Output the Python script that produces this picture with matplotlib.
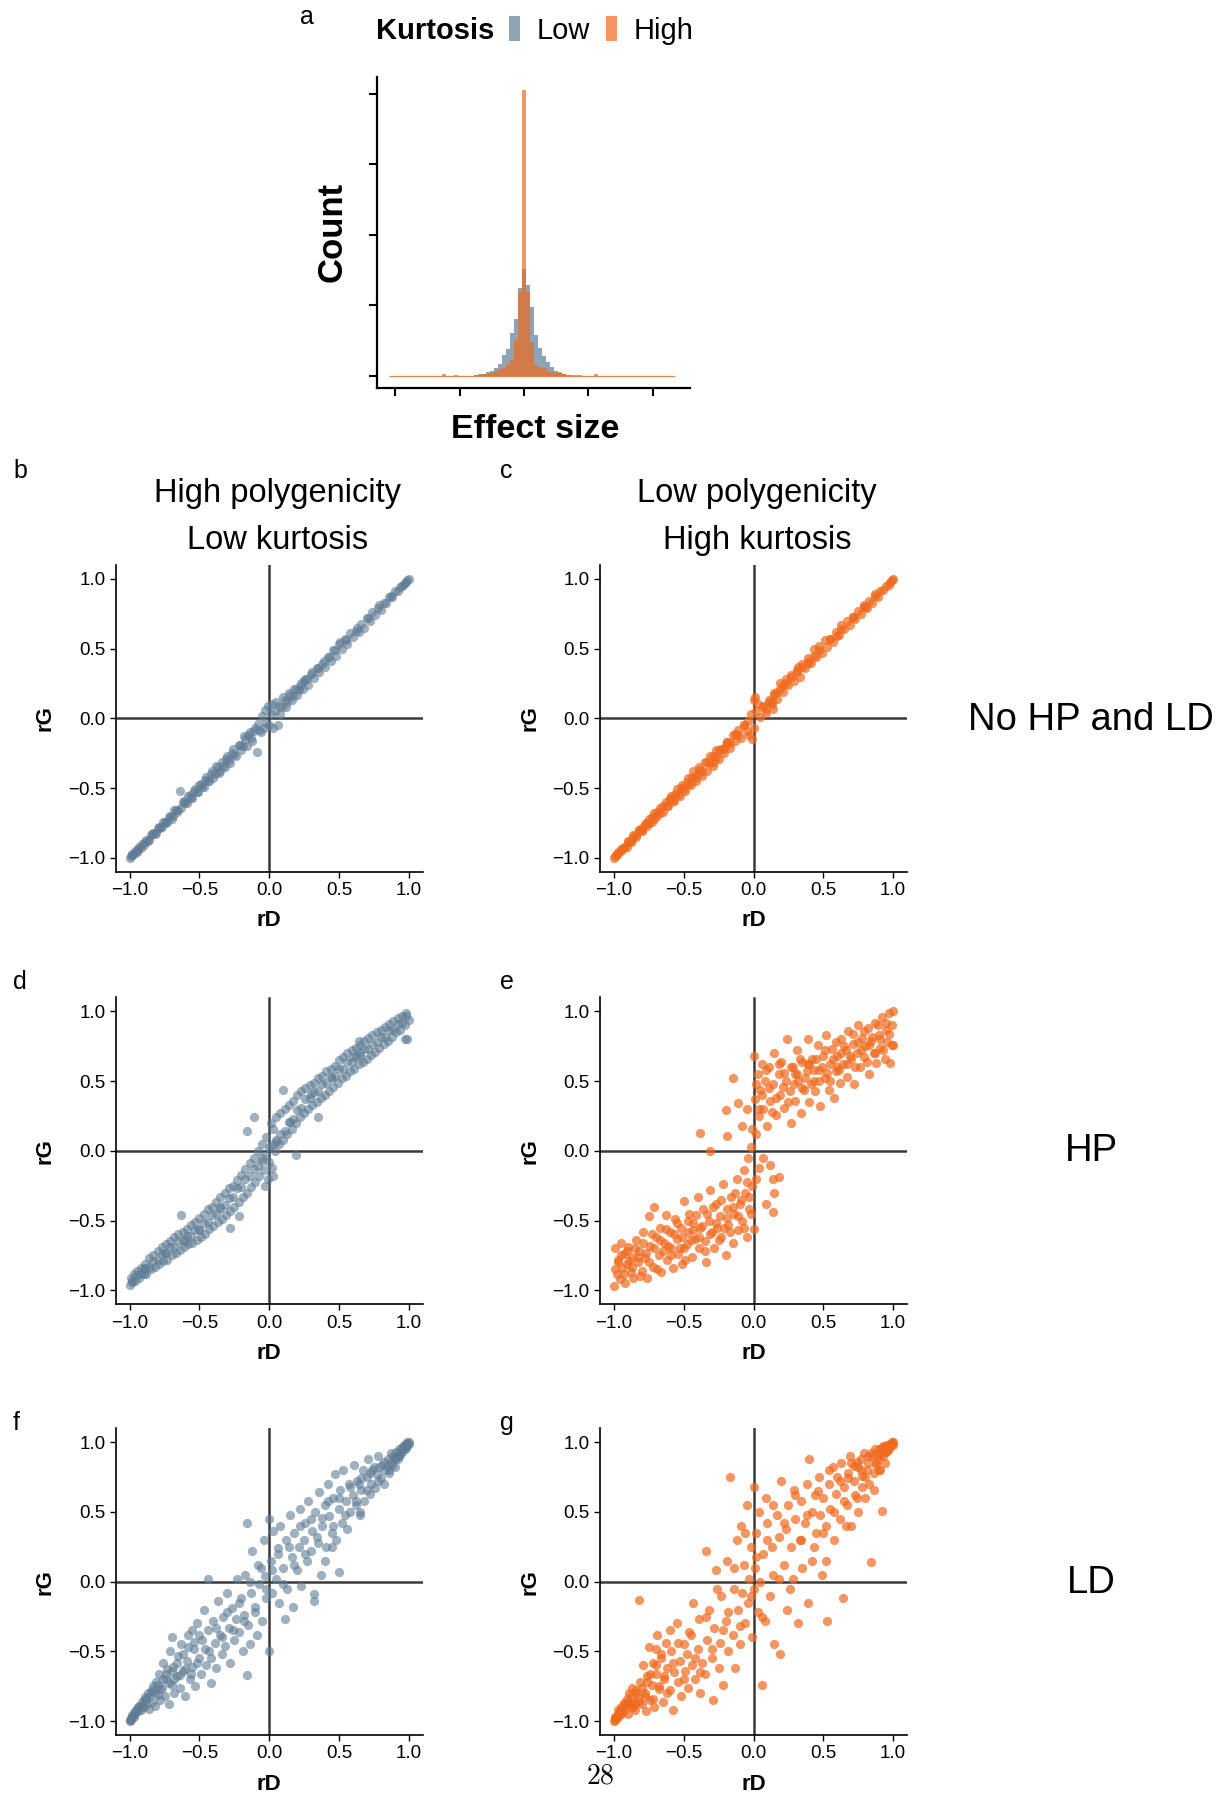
import matplotlib
matplotlib.use("Agg")
import matplotlib.pyplot as plt
from matplotlib.patches import Rectangle
import numpy as np

plt.rcParams["font.family"] = ["Liberation Sans", "DejaVu Sans"]
plt.rcParams["mathtext.fontset"] = "cm"

W, H = 1222, 1794
BLUE = "#5f7c94"
ORANGE = "#ef6a1e"
ZERO_LINE = "#3a3a3a"

# ---- panel a: effect size histograms (bins of width 0.0625, k = -33..37) ----
bin_width = 0.0625
bin_k = list(range(-33, 38))
low_counts = [0, 0, 0, 0, 0, 0, 0, 0, 0, 0,
              0, 0, 0, 0, 0, 0, 0, 0, 0, 0,
              0, 14, 21, 28, 50, 71, 113, 166, 294, 379,
              610, 804, 1238, 1507, 1286, 968, 577, 387, 279, 189,
              128, 71, 43, 28, 14, 0, 0, 0, 0, 0,
              0, 0, 0, 0, 0, 0, 0, 0, 0, 0,
              0, 0, 0, 0, 0, 0, 0, 0, 0, 0,
              0]
high_counts = [0, 0, 0, 0, 0, 0, 0, 0, 0, 0,
               0, 0, 0, 20, 0, 0, 14, 0, 0, 0,
               0, 14, 14, 21, 28, 43, 64, 89, 104, 152,
               223, 506, 1181, 4056, 1181, 482, 152, 128, 104, 71,
               57, 43, 57, 28, 14, 14, 14, 14, 0, 0,
               0, 18, 0, 0, 0, 0, 0, 0, 0, 0,
               0, 0, 0, 0, 0, 0, 0, 0, 0, 0,
               0]

# ---- panel b: high polygenicity / low kurtosis, no HP and LD ----
b_rd = [-1.00, -0.99, -0.97, -0.96, -0.94, -0.92, -0.91, -0.89, -0.87, -0.85,
        -0.83, -0.81, -0.79, -0.78, -0.76, -0.74, -0.72, -0.70, -0.68, -0.66,
        -0.64, -0.63, -0.61, -0.59, -0.57, -0.55, -0.53, -0.51, -0.49, -0.47,
        -0.45, -0.43, -0.41, -0.40, -0.38, -0.36, -0.34, -0.32, -0.30, -0.28,
        -0.26, -0.24, -0.22, -0.20, -0.18, -0.16, -0.14, -0.12, -0.10, -0.09,
        -0.08, -0.06, -0.05, -0.04, -0.03, -0.02, -0.01, 0.00, 0.01, 0.02,
        0.03, 0.04, 0.05, 0.06, 0.08, 0.10, 0.12, 0.14, 0.16, 0.18,
        0.20, 0.22, 0.24, 0.26, 0.28, 0.30, 0.32, 0.34, 0.36, 0.38,
        0.40, 0.42, 0.44, 0.46, 0.48, 0.50, 0.52, 0.54, 0.56, 0.58,
        0.60, 0.62, 0.64, 0.66, 0.68, 0.70, 0.72, 0.74, 0.76, 0.78,
        0.80, 0.82, 0.84, 0.86, 0.88, 0.90, 0.92, 0.94, 0.96, 0.98,
        1.00, 0.99, 0.97, 0.95, -0.98, -0.95, 0.51, -0.35, 0.25, -0.15,
        -0.98, -0.95, -0.93, -0.90, -0.88, -0.86, -0.84, -0.82, -0.80, -0.77,
        -0.75, -0.73, -0.71, -0.69, -0.67, -0.65, -0.62, -0.60, -0.58, -0.56,
        -0.54, -0.52, -0.50, -0.48, -0.46, -0.44, -0.42, -0.39, -0.37, -0.33,
        -0.31, -0.29, -0.27, -0.25, -0.21, -0.19, -0.17, -0.13, -0.11, -0.07,
        0.07, 0.09, 0.11, 0.13, 0.15, 0.17, 0.19, 0.21, 0.23, 0.27,
        0.31, 0.35, 0.39, 0.43, 0.47, 0.55, 0.63, 0.71, 0.79, 0.87]
b_rg = [-1.00, -0.99, -0.97, -0.95, -0.94, -0.93, -0.90, -0.89, -0.88, -0.84,
        -0.82, -0.82, -0.78, -0.79, -0.74, -0.75, -0.71, -0.72, -0.66, -0.67,
        -0.52, -0.64, -0.59, -0.61, -0.55, -0.57, -0.51, -0.53, -0.47, -0.49,
        -0.42, -0.45, -0.38, -0.43, -0.34, -0.39, -0.31, -0.35, -0.27, -0.32,
        -0.22, -0.27, -0.19, -0.23, -0.13, -0.20, -0.10, -0.16, -0.07, -0.24,
        -0.04, -0.10, 0.02, -0.07, 0.06, -0.03, 0.09, -0.05, 0.03, 0.10,
        -0.07, 0.05, 0.12, -0.05, 0.03, 0.15, 0.08, 0.18, 0.13, 0.21,
        0.17, 0.23, 0.21, 0.28, 0.24, 0.32, 0.29, 0.36, 0.33, 0.39,
        0.37, 0.44, 0.41, 0.49, 0.45, 0.53, 0.50, 0.57, 0.53, 0.61,
        0.58, 0.63, 0.62, 0.68, 0.65, 0.72, 0.70, 0.76, 0.74, 0.79,
        0.78, 0.83, 0.83, 0.87, 0.87, 0.91, 0.91, 0.94, 0.96, 0.98,
        1.00, 0.99, 0.97, 0.95, -0.98, -0.95, 0.55, -0.38, 0.27, -0.12,
        -0.97, -0.96, -0.92, -0.91, -0.87, -0.87, -0.83, -0.83, -0.79, -0.78,
        -0.74, -0.74, -0.70, -0.70, -0.66, -0.66, -0.60, -0.61, -0.56, -0.57,
        -0.52, -0.53, -0.48, -0.49, -0.44, -0.45, -0.40, -0.40, -0.35, -0.34,
        -0.29, -0.30, -0.25, -0.26, -0.19, -0.20, -0.15, -0.14, -0.09, -0.08,
        0.09, 0.08, 0.13, 0.12, 0.17, 0.16, 0.21, 0.20, 0.25, 0.28,
        0.33, 0.36, 0.41, 0.44, 0.49, 0.56, 0.65, 0.72, 0.81, 0.88]

# ---- panel c: low polygenicity / high kurtosis, no HP and LD ----
c_rd = [-1.00, -0.98, -0.97, -0.95, -0.93, -0.91, -0.90, -0.88, -0.86, -0.84,
        -0.82, -0.80, -0.78, -0.76, -0.75, -0.73, -0.71, -0.69, -0.67, -0.65,
        -0.63, -0.61, -0.59, -0.57, -0.55, -0.53, -0.51, -0.49, -0.47, -0.45,
        -0.43, -0.41, -0.39, -0.37, -0.35, -0.33, -0.31, -0.29, -0.27, -0.25,
        -0.23, -0.21, -0.19, -0.17, -0.15, -0.13, -0.11, -0.09, -0.07, -0.05,
        -0.04, -0.03, -0.02, -0.01, 0.00, 0.00, 0.01, 0.02, 0.03, 0.05,
        0.07, 0.09, 0.11, 0.13, 0.15, 0.17, 0.19, 0.21, 0.23, 0.25,
        0.27, 0.29, 0.31, 0.33, 0.35, 0.37, 0.39, 0.41, 0.43, 0.45,
        0.47, 0.49, 0.51, 0.53, 0.55, 0.57, 0.59, 0.61, 0.63, 0.65,
        0.67, 0.69, 0.71, 0.73, 0.75, 0.77, 0.79, 0.81, 0.83, 0.85,
        0.87, 0.89, 0.91, 0.93, 0.95, 0.97, 0.99, 1.00, -0.99, 0.98,
        -0.80, -0.60, -0.40, -0.20, 0.40, 0.60, 0.80, 0.32, -0.28, 0.14,
        -0.98, -0.95, -0.93, -0.90, -0.88, -0.86, -0.84, -0.82, -0.80, -0.77,
        -0.75, -0.73, -0.71, -0.69, -0.67, -0.65, -0.62, -0.60, -0.58, -0.56,
        -0.54, -0.52, -0.50, -0.48, -0.46, -0.44, -0.42, -0.39, -0.37, -0.33,
        -0.31, -0.29, -0.27, -0.25, -0.21, -0.19, -0.17, -0.13, -0.11, -0.07,
        0.07, 0.09, 0.11, 0.13, 0.15, 0.17, 0.19, 0.21, 0.23, 0.27,
        0.31, 0.35, 0.39, 0.43, 0.47, 0.55, 0.63, 0.71, 0.79, 0.87]
c_rg = [-1.00, -0.98, -0.96, -0.95, -0.92, -0.92, -0.88, -0.89, -0.85, -0.85,
        -0.80, -0.81, -0.76, -0.77, -0.72, -0.74, -0.68, -0.70, -0.64, -0.67,
        -0.60, -0.63, -0.56, -0.59, -0.51, -0.56, -0.48, -0.52, -0.43, -0.48,
        -0.38, -0.45, -0.35, -0.41, -0.31, -0.38, -0.27, -0.34, -0.23, -0.29,
        -0.22, -0.25, -0.17, -0.21, -0.12, -0.16, -0.08, -0.14, -0.05, -0.09,
        -0.02, -0.12, 0.03, -0.15, 0.13, -0.07, 0.15, 0.05, 0.10, 0.01,
        0.09, 0.04, 0.12, 0.10, 0.18, 0.14, 0.25, 0.19, 0.28, 0.24,
        0.31, 0.27, 0.35, 0.30, 0.39, 0.36, 0.43, 0.40, 0.50, 0.44,
        0.52, 0.47, 0.56, 0.51, 0.57, 0.55, 0.62, 0.60, 0.67, 0.64,
        0.70, 0.67, 0.73, 0.71, 0.77, 0.75, 0.81, 0.79, 0.84, 0.83,
        0.88, 0.87, 0.91, 0.92, 0.95, 0.96, 0.99, 1.00, -0.99, 0.98,
        -0.79, -0.58, -0.40, -0.19, 0.41, 0.59, 0.80, 0.37, -0.31, 0.07,
        -0.97, -0.94, -0.93, -0.89, -0.88, -0.84, -0.84, -0.80, -0.80, -0.75,
        -0.75, -0.71, -0.72, -0.67, -0.68, -0.63, -0.63, -0.58, -0.59, -0.54,
        -0.55, -0.50, -0.51, -0.46, -0.47, -0.42, -0.43, -0.37, -0.38, -0.31,
        -0.32, -0.27, -0.28, -0.23, -0.22, -0.17, -0.18, -0.11, -0.12, -0.05,
        0.08, 0.07, 0.13, 0.12, 0.17, 0.19, 0.21, 0.24, 0.25, 0.30,
        0.33, 0.37, 0.40, 0.45, 0.49, 0.57, 0.64, 0.73, 0.80, 0.89]

# ---- panel d: high polygenicity / low kurtosis, HP ----
d_rd = [-1.00, -0.99, -0.98, -0.97, -0.96, -0.95, -0.93, -0.92, -0.90, -0.89,
        -0.88, -0.86, -0.85, -0.83, -0.82, -0.80, -0.79, -0.77, -0.76, -0.74,
        -0.73, -0.71, -0.70, -0.68, -0.67, -0.65, -0.64, -0.62, -0.61, -0.59,
        -0.58, -0.56, -0.55, -0.53, -0.52, -0.50, -0.49, -0.47, -0.46, -0.44,
        -0.43, -0.41, -0.40, -0.38, -0.37, -0.35, -0.34, -0.32, -0.31, -0.29,
        -0.28, -0.26, -0.25, -0.23, -0.22, -0.20, -0.19, -0.17, -0.16, -0.14,
        -0.13, -0.11, -0.10, -0.08, -0.07, -0.05, -0.04, -0.03, -0.02, -0.01,
        0.00, 0.00, 0.01, 0.02, 0.03, 0.04, 0.05, 0.07, 0.08, 0.10,
        0.11, 0.13, 0.14, 0.16, 0.17, 0.19, 0.20, 0.22, 0.23, 0.25,
        0.26, 0.28, 0.29, 0.31, 0.32, 0.34, 0.35, 0.37, 0.38, 0.40,
        0.41, 0.43, 0.44, 0.46, 0.47, 0.49, 0.50, 0.52, 0.53, 0.55,
        0.56, 0.58, 0.59, 0.61, 0.62, 0.64, 0.65, 0.67, 0.68, 0.70,
        0.71, 0.73, 0.74, 0.76, 0.77, 0.79, 0.80, 0.82, 0.83, 0.85,
        0.86, 0.88, 0.89, 0.91, 0.92, 0.94, 0.95, 0.97, 0.98, 1.00,
        -0.63, -0.28, -0.22, -0.16, -0.11, 0.19, 0.03, 0.10, 0.35, 0.64,
        0.97, 0.99, 0.65, 0.45, -0.50, -0.75, -0.90, 0.15, 0.05, -0.05,
        -0.98, -0.95, -0.92, -0.89, -0.86, -0.83, -0.80, -0.77, -0.74, -0.71,
        -0.68, -0.65, -0.62, -0.59, -0.56, -0.53, -0.50, -0.47, -0.44, -0.41,
        -0.38, -0.35, -0.32, -0.29, -0.26, -0.23, -0.20, -0.17, -0.14, -0.11,
        -0.08, -0.05, -0.02, 0.02, 0.05, 0.08, 0.11, 0.14, 0.17, 0.20,
        0.23, 0.26, 0.29, 0.32, 0.35, 0.38, 0.41, 0.44, 0.47, 0.50,
        0.53, 0.56, 0.59, 0.62, 0.65, 0.68, 0.71, 0.74, 0.77, 0.80,
        0.83, 0.86, 0.89, 0.92, 0.95, 0.98, -0.60, 0.60, -0.35, 0.30]
d_rg = [-0.96, -0.91, -0.94, -0.88, -0.93, -0.86, -0.91, -0.84, -0.88, -0.81,
        -0.88, -0.77, -0.85, -0.75, -0.83, -0.72, -0.81, -0.69, -0.79, -0.67,
        -0.78, -0.65, -0.75, -0.62, -0.73, -0.60, -0.71, -0.58, -0.69, -0.56,
        -0.67, -0.53, -0.66, -0.51, -0.64, -0.48, -0.62, -0.45, -0.60, -0.42,
        -0.56, -0.40, -0.54, -0.37, -0.51, -0.33, -0.49, -0.30, -0.46, -0.27,
        -0.43, -0.25, -0.40, -0.21, -0.37, -0.17, -0.33, -0.13, -0.30, -0.09,
        -0.26, -0.05, -0.22, 0.00, -0.18, 0.05, -0.14, -0.25, 0.10, -0.20,
        0.03, -0.08, 0.20, -0.12, 0.16, 0.00, 0.24, 0.05, 0.27, 0.08,
        0.30, 0.12, 0.33, 0.16, 0.36, 0.20, 0.40, 0.24, 0.43, 0.27,
        0.45, 0.30, 0.47, 0.33, 0.49, 0.35, 0.52, 0.38, 0.54, 0.40,
        0.57, 0.43, 0.59, 0.46, 0.61, 0.49, 0.65, 0.52, 0.67, 0.54,
        0.70, 0.57, 0.72, 0.59, 0.74, 0.62, 0.76, 0.64, 0.79, 0.66,
        0.81, 0.69, 0.83, 0.71, 0.85, 0.74, 0.87, 0.77, 0.89, 0.79,
        0.91, 0.82, 0.93, 0.85, 0.95, 0.87, 0.97, 0.90, 0.99, 0.94,
        -0.46, -0.55, -0.47, 0.14, 0.24, -0.03, -0.18, 0.44, 0.24, 0.79,
        0.80, 0.80, 0.70, 0.52, -0.56, -0.73, -0.85, 0.21, 0.08, -0.07,
        -0.93, -0.89, -0.88, -0.84, -0.83, -0.79, -0.78, -0.74, -0.73, -0.69,
        -0.69, -0.65, -0.65, -0.61, -0.61, -0.57, -0.57, -0.52, -0.51, -0.46,
        -0.45, -0.40, -0.39, -0.34, -0.33, -0.27, -0.26, -0.20, -0.18, -0.13,
        -0.11, -0.05, -0.03, 0.04, 0.06, 0.12, 0.14, 0.21, 0.23, 0.29,
        0.31, 0.37, 0.38, 0.42, 0.43, 0.48, 0.49, 0.53, 0.54, 0.59,
        0.59, 0.64, 0.64, 0.68, 0.68, 0.73, 0.73, 0.77, 0.78, 0.82,
        0.82, 0.87, 0.87, 0.91, 0.92, 0.97, -0.64, 0.67, -0.42, 0.41]

# ---- panel e: low polygenicity / high kurtosis, HP ----
e_rd = [-1.00, -0.99, -0.98, -0.97, -0.96, -0.95, -0.94, -0.93, -0.92, -0.91,
        -0.90, -0.88, -0.87, -0.86, -0.84, -0.83, -0.82, -0.80, -0.79, -0.78,
        -0.76, -0.75, -0.74, -0.72, -0.71, -0.70, -0.68, -0.67, -0.66, -0.64,
        -0.63, -0.62, -0.60, -0.59, -0.58, -0.56, -0.55, -0.54, -0.52, -0.51,
        -0.50, -0.48, -0.47, -0.46, -0.44, -0.43, -0.42, -0.40, -0.39, -0.38,
        -0.36, -0.35, -0.34, -0.32, -0.31, -0.30, -0.28, -0.27, -0.26, -0.24,
        -0.23, -0.22, -0.20, -0.19, -0.18, -0.16, -0.15, -0.14, -0.12, -0.11,
        -0.10, -0.08, -0.07, -0.06, -0.05, -0.04, -0.03, -0.02, -0.01, 0.00,
        0.00, 0.01, 0.02, 0.03, 0.04, 0.05, 0.06, 0.07, 0.08, 0.10,
        0.11, 0.12, 0.14, 0.15, 0.16, 0.18, 0.19, 0.20, 0.22, 0.23,
        0.24, 0.26, 0.27, 0.28, 0.30, 0.31, 0.32, 0.34, 0.35, 0.36,
        0.38, 0.39, 0.40, 0.42, 0.43, 0.44, 0.46, 0.47, 0.48, 0.50,
        0.51, 0.52, 0.54, 0.55, 0.56, 0.58, 0.59, 0.60, 0.62, 0.63,
        0.64, 0.66, 0.67, 0.68, 0.70, 0.71, 0.72, 0.74, 0.75, 0.76,
        0.78, 0.79, 0.80, 0.82, 0.83, 0.84, 0.86, 0.87, 0.88, 0.90,
        0.91, 0.92, 0.94, 0.95, 0.96, 0.97, 0.98, 0.99, 1.00, 1.00,
        -0.15, -0.20, -0.11, -0.38, -0.31, -0.19, -0.05, -0.08, 0.14, 0.18,
        0.14, 0.09, 0.07, 0.12, 0.02, -0.01, 0.04, 0.15, -0.50, 0.30,
        -0.99, -0.97, -0.95, -0.93, -0.91, -0.89, -0.87, -0.85, -0.83, -0.81,
        -0.79, -0.77, -0.75, -0.73, -0.71, -0.69, -0.67, -0.65, -0.63, -0.61,
        -0.59, -0.57, -0.55, -0.53, -0.51, -0.49, -0.47, -0.45, -0.43, -0.41,
        -0.39, -0.37, -0.35, -0.33, -0.31, -0.29, -0.27, -0.25, -0.23, -0.21,
        -0.19, -0.17, -0.15, -0.13, -0.11, -0.09, -0.07, -0.05, -0.03, -0.02,
        0.02, 0.04, 0.06, 0.09, 0.11, 0.13, 0.16, 0.18, 0.21, 0.22,
        0.25, 0.27, 0.29, 0.31, 0.33, 0.35, 0.37, 0.39, 0.41, 0.43,
        0.45, 0.47, 0.49, 0.51, 0.53, 0.55, 0.57, 0.59, 0.61, 0.63,
        0.65, 0.67, 0.69, 0.71, 0.73, 0.75, 0.77, 0.79, 0.81, 0.83,
        0.85, 0.87, 0.89, 0.91, 0.93, 0.95, 0.97, 0.99, 0.60, 0.40]
e_rg = [-0.97, -0.70, -0.88, -0.78, -0.92, -0.66, -0.84, -0.74, -0.95, -0.81,
        -0.69, -0.87, -0.76, -0.91, -0.64, -0.80, -0.72, -0.86, -0.58, -0.77,
        -0.91, -0.47, -0.68, -0.83, -0.40, -0.62, -0.75, -0.55, -0.87, -0.66,
        -0.46, -0.78, -0.58, -0.70, -0.84, -0.49, -0.63, -0.74, -0.55, -0.81,
        -0.36, -0.67, -0.58, -0.45, -0.76, -0.52, -0.63, -0.33, -0.70, -0.55,
        -0.42, -0.65, -0.80, -0.50, -0.28, -0.58, -0.70, -0.38, -0.55, -0.47,
        -0.62, -0.24, -0.75, -0.42, -0.53, -0.33, -0.66, -0.45, -0.20, -0.57,
        -0.38, -0.50, -0.14, -0.30, -0.62, -0.05, -0.42, 0.03, -0.25, -0.56,
        0.68, 0.37, 0.12, 0.55, 0.25, 0.44, 0.62, 0.30, 0.50, 0.18,
        0.60, 0.36, 0.48, 0.70, 0.26, 0.55, 0.40, 0.64, 0.31, 0.50,
        0.80, 0.43, 0.20, 0.60, 0.36, 0.72, 0.50, 0.27, 0.64, 0.44,
        0.57, 0.80, 0.35, 0.66, 0.50, 0.43, 0.76, 0.58, 0.32, 0.68,
        0.52, 0.83, 0.44, 0.62, 0.73, 0.38, 0.57, 0.68, 0.49, 0.80,
        0.62, 0.72, 0.53, 0.86, 0.66, 0.77, 0.48, 0.70, 0.90, 0.60,
        0.81, 0.67, 0.75, 0.88, 0.55, 0.79, 0.70, 0.92, 0.63, 0.83,
        0.74, 0.96, 0.66, 0.87, 0.78, 0.99, 0.63, 0.90, 0.76, 1.00,
        0.52, 0.29, 0.34, 0.13, 0.00, 0.11, 0.30, 0.18, -0.20, -0.19,
        -0.44, -0.38, -0.05, -0.10, -0.20, 0.16, -0.12, -0.30, -0.70, 0.55,
        -0.85, -0.80, -0.75, -0.88, -0.72, -0.79, -0.83, -0.70, -0.76, -0.90,
        -0.66, -0.73, -0.80, -0.60, -0.70, -0.85, -0.64, -0.72, -0.56, -0.68,
        -0.75, -0.60, -0.52, -0.70, -0.62, -0.78, -0.50, -0.64, -0.57, -0.46,
        -0.62, -0.54, -0.72, -0.45, -0.60, -0.40, -0.52, -0.64, -0.35, -0.55,
        -0.48, -0.58, -0.40, -0.30, -0.47, -0.35, -0.55, -0.22, -0.33, -0.45,
        0.48, 0.30, 0.40, 0.58, 0.45, 0.28, 0.38, 0.62, 0.46, 0.56,
        0.35, 0.60, 0.48, 0.55, 0.66, 0.45, 0.52, 0.62, 0.48, 0.58,
        0.66, 0.50, 0.60, 0.72, 0.56, 0.50, 0.66, 0.78, 0.58, 0.70,
        0.75, 0.62, 0.68, 0.84, 0.60, 0.78, 0.72, 0.86, 0.64, 0.76,
        0.82, 0.70, 0.90, 0.80, 0.72, 0.92, 0.84, 0.76, 0.60, 0.62]

# ---- panel f: high polygenicity / low kurtosis, LD ----
f_rd = [-1.00, -0.99, -0.99, -0.98, -0.97, -0.97, -0.96, -0.95, -0.94, -0.93,
        -0.92, -0.91, -0.90, -0.89, -0.88, -0.87, -0.86, -0.85, -0.84, -0.83,
        -0.82, -0.81, -0.80, -0.79, -0.78, -0.77, -0.76, -0.75, -0.74, -0.73,
        -0.72, -0.71, -0.70, -0.69, -0.68, -0.66, -0.65, -0.64, -0.63, -0.62,
        -0.60, -0.59, -0.58, -0.57, -0.55, -0.54, -0.53, -0.52, -0.50, -0.49,
        -0.48, -0.47, -0.45, -0.44, -0.43, -0.42, -0.40, -0.39, -0.38, -0.37,
        -0.35, -0.34, -0.33, -0.32, -0.30, -0.29, -0.28, -0.27, -0.25, -0.24,
        -0.23, -0.22, -0.20, -0.19, -0.18, -0.17, -0.15, -0.14, -0.13, -0.12,
        -0.10, -0.09, -0.08, -0.07, -0.05, -0.04, -0.03, -0.02, 0.00, 0.00,
        0.01, 0.02, 0.03, 0.05, 0.06, 0.07, 0.08, 0.10, 0.11, 0.12,
        0.13, 0.15, 0.16, 0.17, 0.18, 0.20, 0.21, 0.22, 0.23, 0.25,
        0.26, 0.27, 0.28, 0.30, 0.31, 0.32, 0.33, 0.35, 0.36, 0.37,
        0.38, 0.40, 0.41, 0.42, 0.43, 0.45, 0.46, 0.47, 0.48, 0.50,
        0.51, 0.52, 0.53, 0.55, 0.56, 0.57, 0.58, 0.60, 0.61, 0.62,
        0.63, 0.65, 0.66, 0.67, 0.68, 0.70, 0.71, 0.72, 0.73, 0.75,
        0.76, 0.77, 0.78, 0.80, 0.81, 0.82, 0.83, 0.85, 0.86, 0.87,
        0.88, 0.89, 0.90, 0.91, 0.92, 0.93, 0.94, 0.95, 0.96, 0.97,
        0.97, 0.98, 0.98, 0.99, 0.99, 1.00, 1.00, 0.95, 0.90, 0.85,
        -0.16, -0.44, 0.32, -0.16, 0.50, 0.40, -0.55, -0.70, 0.65, 0.45,
        -0.995, -0.98, -0.96, -0.94, -0.92, -0.90, -0.88, -0.86, -0.84, -0.82,
        -0.80, -0.78, -0.76, -0.74, -0.72, -0.70, -0.68, -0.66, -0.64, -0.62,
        -0.60, -0.58, -0.56, -0.54, -0.52, -0.50, -0.46, -0.42, -0.38, -0.34,
        -0.30, -0.26, -0.22, -0.18, -0.14, -0.10, -0.06, -0.02, 0.02, 0.06,
        0.10, 0.14, 0.18, 0.22, 0.26, 0.30, 0.34, 0.38, 0.42, 0.46,
        0.50, 0.54, 0.58, 0.62, 0.66, 0.70, 0.74, 0.78, 0.82, 0.86,
        0.90, 0.94, 0.96, 0.98, 0.99, 0.93, 0.87, 0.79, 0.72, 0.64]
f_rg = [-1.00, -0.98, -0.99, -0.96, -0.97, -0.94, -0.95, -0.91, -0.93, -0.89,
        -0.92, -0.86, -0.90, -0.83, -0.88, -0.80, -0.91, -0.79, -0.86, -0.75,
        -0.89, -0.72, -0.81, -0.66, -0.85, -0.76, -0.58, -0.82, -0.70, -0.63,
        -0.88, -0.50, -0.74, -0.61, -0.80, -0.68, -0.53, -0.76, -0.45, -0.64,
        -0.82, -0.57, -0.38, -0.70, -0.61, -0.48, -0.75, -0.30, -0.55, -0.66,
        -0.42, -0.20, -0.60, -0.35, -0.50, -0.73, -0.28, -0.44, -0.62, -0.14,
        -0.38, -0.52, -0.25, -0.46, -0.08, -0.33, -0.58, -0.19, -0.42, -0.27,
        0.02, -0.36, -0.12, -0.50, -0.24, 0.05, -0.31, -0.45, -0.08, 0.22,
        -0.18, -0.38, 0.12, -0.02, -0.28, 0.30, 0.04, -0.12, 0.45, -0.50,
        0.15, -0.08, 0.36, 0.02, 0.24, -0.15, 0.40, 0.10, -0.27, 0.30,
        -0.05, 0.48, 0.18, -0.18, 0.35, 0.08, 0.25, 0.52, -0.03, 0.30,
        0.42, 0.15, 0.58, 0.22, 0.36, -0.09, 0.50, 0.28, 0.64, 0.05,
        0.40, 0.55, 0.25, 0.70, 0.47, 0.35, 0.60, 0.77, 0.30, 0.52,
        0.66, 0.42, 0.80, 0.58, 0.38, 0.70, 0.50, 0.62, 0.84, 0.55,
        0.72, 0.48, 0.66, 0.80, 0.58, 0.75, 0.88, 0.63, 0.70, 0.82,
        0.67, 0.77, 0.90, 0.74, 0.84, 0.70, 0.80, 0.88, 0.78, 0.92,
        0.84, 0.90, 0.82, 0.93, 0.88, 0.95, 0.91, 0.93, 0.97, 0.95,
        0.98, 0.97, 0.99, 0.98, 1.00, 0.99, 1.00, 0.96, 0.88, 0.83,
        -0.67, 0.02, -0.14, 0.42, 0.07, 0.15, -0.35, -0.40, 0.50, 0.25,
        -0.99, -0.97, -0.93, -0.90, -0.89, -0.85, -0.84, -0.83, -0.78, -0.80,
        -0.74, -0.77, -0.70, -0.66, -0.73, -0.64, -0.70, -0.58, -0.67, -0.52,
        -0.63, -0.47, -0.66, -0.43, -0.58, -0.38, -0.48, -0.55, -0.33, -0.40,
        -0.22, -0.35, -0.15, -0.28, 0.00, -0.22, 0.10, -0.05, 0.08, 0.20,
        -0.02, 0.25, 0.12, 0.40, 0.20, 0.45, 0.32, 0.46, 0.58, 0.40,
        0.60, 0.48, 0.68, 0.58, 0.74, 0.66, 0.80, 0.72, 0.86, 0.80,
        0.89, 0.92, 0.95, 0.96, 0.99, 0.90, 0.86, 0.82, 0.78, 0.70]

# ---- panel g: low polygenicity / high kurtosis, LD ----
g_rd = [-1.00, -0.99, -0.99, -0.98, -0.97, -0.97, -0.96, -0.95, -0.94, -0.93,
        -0.92, -0.91, -0.90, -0.89, -0.88, -0.87, -0.86, -0.85, -0.84, -0.83,
        -0.82, -0.81, -0.80, -0.79, -0.78, -0.77, -0.76, -0.75, -0.74, -0.73,
        -0.72, -0.71, -0.70, -0.69, -0.68, -0.66, -0.65, -0.64, -0.63, -0.62,
        -0.60, -0.59, -0.58, -0.57, -0.55, -0.54, -0.53, -0.52, -0.50, -0.49,
        -0.48, -0.47, -0.45, -0.44, -0.43, -0.42, -0.40, -0.39, -0.38, -0.37,
        -0.35, -0.34, -0.33, -0.32, -0.30, -0.29, -0.28, -0.27, -0.25, -0.24,
        -0.23, -0.22, -0.20, -0.19, -0.18, -0.17, -0.15, -0.14, -0.13, -0.12,
        -0.11, -0.10, -0.09, -0.08, -0.07, -0.06, -0.05, -0.04, -0.03, -0.02,
        -0.01, 0.00, 0.00, 0.01, 0.02, 0.03, 0.04, 0.05, 0.06, 0.07,
        0.08, 0.09, 0.10, 0.12, 0.13, 0.14, 0.15, 0.17, 0.18, 0.19,
        0.20, 0.22, 0.23, 0.24, 0.25, 0.27, 0.28, 0.29, 0.30, 0.32,
        0.33, 0.34, 0.35, 0.37, 0.38, 0.39, 0.40, 0.42, 0.43, 0.44,
        0.45, 0.47, 0.48, 0.49, 0.50, 0.52, 0.53, 0.54, 0.55, 0.57,
        0.58, 0.59, 0.60, 0.62, 0.63, 0.64, 0.65, 0.67, 0.68, 0.69,
        0.70, 0.72, 0.73, 0.74, 0.75, 0.77, 0.78, 0.79, 0.80, 0.82,
        0.83, 0.84, 0.85, 0.86, 0.87, 0.88, 0.89, 0.90, 0.91, 0.92,
        0.93, 0.94, 0.95, 0.96, 0.97, 0.98, 0.98, 0.99, 1.00, 1.00,
        0.92, 0.52, -0.60, -0.70, 0.65, 0.80, 0.90, -0.90, -0.85, 0.75,
        -0.995, -0.98, -0.96, -0.94, -0.92, -0.90, -0.88, -0.86, -0.84, -0.82,
        -0.80, -0.78, -0.76, -0.74, -0.72, -0.70, -0.68, -0.66, -0.64, -0.62,
        -0.58, -0.54, -0.50, -0.46, -0.42, -0.38, -0.34, -0.30, -0.26, -0.22,
        -0.18, -0.14, -0.10, -0.06, -0.02, 0.02, 0.06, 0.10, 0.14, 0.18,
        0.22, 0.26, 0.30, 0.34, 0.38, 0.42, 0.46, 0.50, 0.54, 0.58,
        0.62, 0.66, 0.70, 0.74, 0.78, 0.82, 0.86, 0.90, 0.94, 0.97,
        0.99, 0.96, 0.93, 0.91, 0.88, 0.84, 0.81, 0.77, 0.72, 0.68]
g_rg = [-1.00, -0.99, -0.97, -0.98, -0.95, -0.92, -0.96, -0.90, -0.94, -0.87,
        -0.91, -0.84, -0.95, -0.80, -0.89, -0.76, -0.86, -0.92, -0.78, -0.83,
        -0.13, -0.72, -0.88, -0.60, -0.80, -0.93, -0.68, -0.47, -0.85, -0.74,
        -0.58, -0.90, -0.66, -0.38, -0.77, -0.55, -0.86, -0.70, -0.44, -0.62,
        -0.78, -0.50, -0.92, -0.65, -0.30, -0.72, -0.57, -0.82, -0.45, -0.64,
        -0.52, -0.76, -0.38, -0.60, -0.15, -0.70, -0.48, -0.27, -0.80, -0.58,
        -0.66, 0.22, -0.42, -0.20, -0.55, -0.85, -0.33, 0.08, -0.62, -0.44,
        -0.10, -0.74, -0.28, 0.15, -0.50, 0.75, -0.38, -0.05, -0.62, 0.30,
        -0.20, -0.45, 0.40, -0.08, 0.12, -0.30, 0.55, -0.15, 0.02, 0.25,
        -0.40, 0.68, -0.05, 0.10, 0.35, -0.22, 0.50, 0.00, -0.74, 0.20,
        -0.28, 0.60, 0.42, -0.10, 0.25, 0.05, -0.45, 0.48, 0.32, -0.52,
        0.72, 0.12, 0.38, -0.20, 0.55, 0.25, 0.02, 0.66, 0.45, -0.30,
        0.30, 0.58, 0.10, 0.42, 0.70, -0.15, 0.88, 0.50, 0.25, 0.62,
        0.35, 0.75, 0.48, 0.05, 0.60, 0.40, -0.28, 0.70, 0.52, 0.82,
        0.30, 0.63, 0.75, 0.45, 0.85, -0.12, 0.68, 0.55, 0.78, 0.90,
        0.40, 0.72, 0.62, 0.86, 0.50, 0.80, 0.68, 0.92, 0.75, 0.85,
        0.70, 0.14, 0.90, 0.78, 0.95, 0.84, 0.88, 0.92, 0.80, 0.96,
        0.90, 0.97, 0.93, 0.98, 0.95, 0.99, 0.97, 1.00, 0.98, 1.00,
        0.51, 0.15, -0.35, -0.48, 0.58, 0.60, 0.80, -0.88, -0.88, 0.82,
        -0.98, -0.97, -0.93, -0.91, -0.88, -0.86, -0.82, -0.90, -0.80, -0.86,
        -0.76, -0.82, -0.72, -0.66, -0.84, -0.60, -0.75, -0.52, -0.68, -0.80,
        -0.58, -0.44, -0.70, -0.36, -0.55, -0.65, -0.25, -0.48, -0.05, -0.35,
        -0.22, 0.10, -0.32, 0.35, -0.10, 0.18, -0.25, 0.30, 0.55, 0.02,
        0.42, -0.05, 0.62, 0.30, 0.48, 0.15, 0.65, 0.35, 0.80, 0.50,
        0.72, 0.40, 0.85, 0.60, 0.76, 0.90, 0.66, 0.95, 0.85, 0.98,
        0.99, 0.94, 0.97, 0.91, 0.86, 0.92, 0.80, 0.88, 0.83, 0.74]

corr_ticks = [-1.0, -0.5, 0.0, 0.5, 1.0]
corr_tick_labels = ["\u22121.0", "\u22120.5", "0.0", "0.5", "1.0"]
col_titles = [("High polygenicity", "Low kurtosis"), ("Low polygenicity", "High kurtosis")]
row_labels = ["No HP and LD", "HP", "LD"]


def rect_px(left, top, width, height):
    return [left / W, 1 - (top + height) / H, width / W, height / H]


def text_px(fig, x, y, s, **kw):
    return fig.text(x / W, 1 - y / H, s, **kw)


fig = plt.figure(figsize=(W / 100, H / 100), dpi=100)

# histogram panel
ax = fig.add_axes(rect_px(377, 77, 313, 311))
centers = np.array(bin_k) * bin_width
ax.bar(centers, low_counts, width=bin_width, color=BLUE, alpha=0.7, linewidth=0)
ax.bar(centers, high_counts, width=bin_width, color=ORANGE, alpha=0.7, linewidth=0)
ax.hlines(0, centers[0] - bin_width / 2, centers[-1] + bin_width / 2,
          color=ORANGE, lw=0.9, alpha=0.85)
ax.set_xlim(-2.286, 2.58)
ax.set_ylim(-174, 4237)
ax.set_xticks([-2, -1, 0, 1, 2])
ax.set_yticks([0, 1000, 2000, 3000, 4000])
ax.set_xticklabels([])
ax.set_yticklabels([])
for side in ("top", "right"):
    ax.spines[side].set_visible(False)
for side in ("left", "bottom"):
    ax.spines[side].set_linewidth(1.6)
ax.tick_params(length=5.8, width=1.5)
text_px(fig, 332, 231.7, "Count", rotation=90, fontsize=25, fontweight="bold",
        ha="center", va="center")
text_px(fig, 535, 438.3, "Effect size", fontsize=24.5, fontweight="bold",
        ha="center", va="baseline")

# legend for the histogram
text_px(fig, 376, 39.3, "Kurtosis", fontsize=21, fontweight="bold", ha="left", va="baseline")
for x0, col, lab in [(509.3, BLUE, "Low"), (606, ORANGE, "High")]:
    fig.add_artist(Rectangle((x0 / W, 1 - 40.7 / H), 10.7 / W, 24.7 / H,
                             transform=fig.transFigure, color=col, alpha=0.7, lw=0))
    text_px(fig, x0 + 27.4, 39.3, lab, fontsize=21, ha="left", va="baseline")
text_px(fig, 300, 24, "a", fontsize=18, ha="left", va="baseline")


def corr_panel(left, top, rd, rg, color, alpha):
    ax = fig.add_axes(rect_px(left, top, 307, 306.7))
    ax.axhline(0, color=ZERO_LINE, lw=1.8, zorder=1)
    ax.axvline(0, color=ZERO_LINE, lw=1.8, zorder=1)
    ax.scatter(rd, rg, s=44, color=color, alpha=alpha, linewidths=0, zorder=2)
    ax.set_xlim(-1.1, 1.1)
    ax.set_ylim(-1.1, 1.1)
    ax.set_xticks(corr_ticks)
    ax.set_yticks(corr_ticks)
    ax.set_xticklabels(corr_tick_labels)
    ax.set_yticklabels(corr_tick_labels)
    for side in ("top", "right"):
        ax.spines[side].set_visible(False)
    for side in ("left", "bottom"):
        ax.spines[side].set_linewidth(1.2)
    ax.tick_params(length=4, width=1, labelsize=13.5, pad=3.5)
    ax.set_xlabel("rD", fontsize=16, fontweight="bold", va="center")
    ax.set_ylabel("rG", fontsize=16, fontweight="bold", va="center")
    ax.xaxis.set_label_coords(0.5, -0.160)
    ax.yaxis.set_label_coords(-0.229, 0.5)
    return ax


col_left = [115.7, 600]
row_top = [565, 997.5, 1428.3]
panels = [
    (0, 0, b_rd, b_rg, BLUE, "b"), (0, 1, c_rd, c_rg, ORANGE, "c"),
    (1, 0, d_rd, d_rg, BLUE, "d"), (1, 1, e_rd, e_rg, ORANGE, "e"),
    (2, 0, f_rd, f_rg, BLUE, "f"), (2, 1, g_rd, g_rg, ORANGE, "g"),
]
letter_x = [13, 500]
letter_base = [478, 988.5, 1430]
for r, c, rd, rg, colr, letter in panels:
    corr_panel(col_left[c], row_top[r], rd, rg, colr, 0.6 if colr == BLUE else 0.7)
    text_px(fig, letter_x[c], letter_base[r], letter, fontsize=18, ha="left", va="baseline")

# column titles
title_x = [278, 757]
for c, (line1, line2) in enumerate(col_titles):
    text_px(fig, title_x[c], 502.3, line1, fontsize=23.5, ha="center", va="baseline")
    text_px(fig, title_x[c], 549.3, line2, fontsize=23.5, ha="center", va="baseline")

# row labels on the right
row_base = [729.5, 1161, 1593]
for r, lab in enumerate(row_labels):
    text_px(fig, 1091, row_base[r], lab, fontsize=27.5, ha="center", va="baseline")

# page number
text_px(fig, 600, 1783, r"$28$", fontsize=20, ha="center", va="baseline")

fig.savefig("out.png", dpi=100)
